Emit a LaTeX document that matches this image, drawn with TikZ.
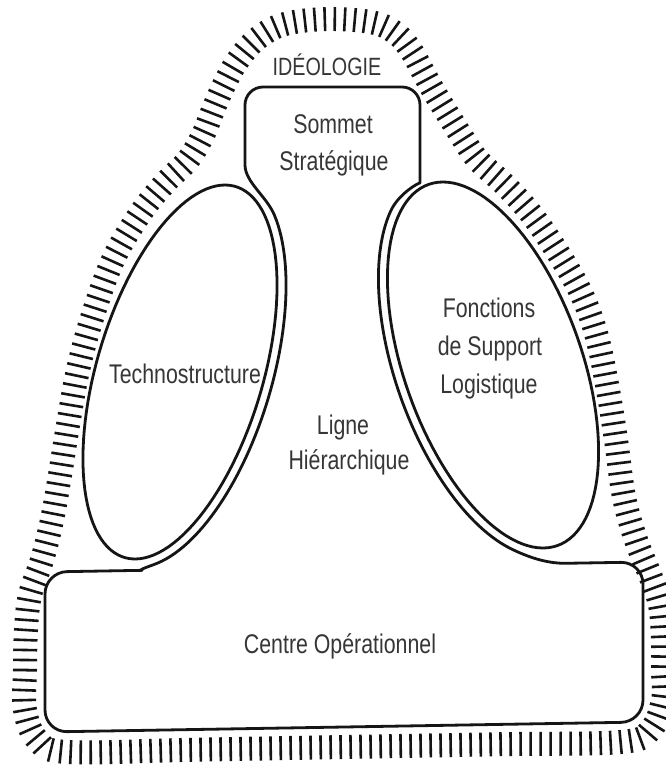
\documentclass[tikz,border=0pt]{standalone}
\usepackage{fontspec}
\setmainfont{Liberation Sans}[FakeStretch=0.79]
\usetikzlibrary{decorations.pathreplacing}
\definecolor{ink}{HTML}{151515}
\definecolor{txt}{HTML}{363636}
\begin{document}
\begin{tikzpicture}[x=1pt,y=-1pt,line join=round,
  declare function={
    lnx(\a)=1.87*sin(\a);
    lny(\a)=0.45*sin(\a)-0.86*cos(\a);
    lnn(\a)=sqrt(lnx(\a)*lnx(\a)+lny(\a)*lny(\a));
    rnx(\a)=1.83*sin(\a);
    rny(\a)=-(0.5*sin(\a)+0.93*cos(\a));
    rnn(\a)=sqrt(rnx(\a)*rnx(\a)+rny(\a)*rny(\a));
  },
  outline/.style={draw=ink, line width=2.8pt},
  hatch/.style={draw=ink, line width=2.6pt, decorate,
    decoration={ticks, segment length=10pt, amplitude=12pt}},
  lbl/.style={text=txt, font=\fontsize{27}{32}\selectfont, anchor=base, inner sep=0pt}
]
\useasboundingbox (0,0) rectangle (666,766);
\fill[white] (0,0) rectangle (666,766);

% hatched ideology band
\draw[hatch] plot[smooth cycle, tension=0.6] coordinates {
 (25,710) (25,670) (26,630) (30,595) (42,560) (52,520) (60,475) (68,425)
 (78,370) (92,318) (113,260) (140,214) (165,183) (188,160) (203,135)
 (213,110) (224,85) (238,60) (258,38) (285,24) (330,19) (375,23) (398,35)
 (412,52) (422,70) (433,90) (447,113) (462,137) (478,160) (505,185)
 (532,215) (560,256) (582,295) (597,337) (608,390) (616,440) (624,497)
 (636,540) (650,575) (660,605) (663,640) (663,670) (663,700) (650.7,729.7)
 (621,742) (500,744.2) (344,747) (190,749.8) (67,752) (37.3,739.7)};

% main contour: centre operationnel + ligne hierarchique + sommet strategique
\draw[outline] (565,563.3) [rounded corners=22pt] -- (643,562) -- (643,722)
  -- (45,732) -- (45,572) -- (120,570.7) [sharp corners]
  .. controls (138,570.4) and (144.2,568) .. (153.6,564.7)
  -- plot[domain=170:35, samples=60, variable=\t]
     ({180+45*cos(\t)+86*sin(\t)+9*lnx(\t)/lnn(\t)},{372-187*cos(\t)+9*lny(\t)/lnn(\t)})
  .. controls (266.8,196.5) and (245,182) .. (245,165)
  [rounded corners=18pt] -- (245,87) -- (420,87) -- (420,165) [sharp corners]
  .. controls (420,182) and (398.7,193.2) .. (390.5,211.4)
  -- plot[domain=-35:-165, samples=60, variable=\t]
     ({493-50*cos(\t)+93*sin(\t)+9*rnx(\t)/rnn(\t)},{365-183*cos(\t)+9*rny(\t)/rnn(\t)})
  .. controls (527,556.3) and (545,563.3) .. (565,563.3) -- cycle;

% technostructure ellipse
\draw[outline] plot[domain=0:360, samples=121, variable=\t]
  ({180+45*cos(\t)+86*sin(\t)},{372-187*cos(\t)}) -- cycle;
% support ellipse
\draw[outline] plot[domain=0:360, samples=121, variable=\t]
  ({493-50*cos(\t)+93*sin(\t)},{365-183*cos(\t)}) -- cycle;

\node[lbl, font=\fontsize{25}{30}\selectfont] (ideo) at (327,75) {IDÉOLOGIE};
\node[lbl] (som1) at (333,133) {Sommet};
\node[lbl] (som2) at (334,170) {Stratégique};
\node[lbl] (tech) at (185,383) {Technostructure};
\node[lbl] (sup1) at (489,317) {Fonctions};
\node[lbl] (sup2) at (490,355) {de Support};
\node[lbl] (sup3) at (489,393) {Logistique};
\node[lbl] (lig1) at (343,434) {Ligne};
\node[lbl] (lig2) at (349,469) {Hiérarchique};
\node[lbl] (centre) at (340,653) {Centre Opérationnel};
\end{tikzpicture}
\end{document}
